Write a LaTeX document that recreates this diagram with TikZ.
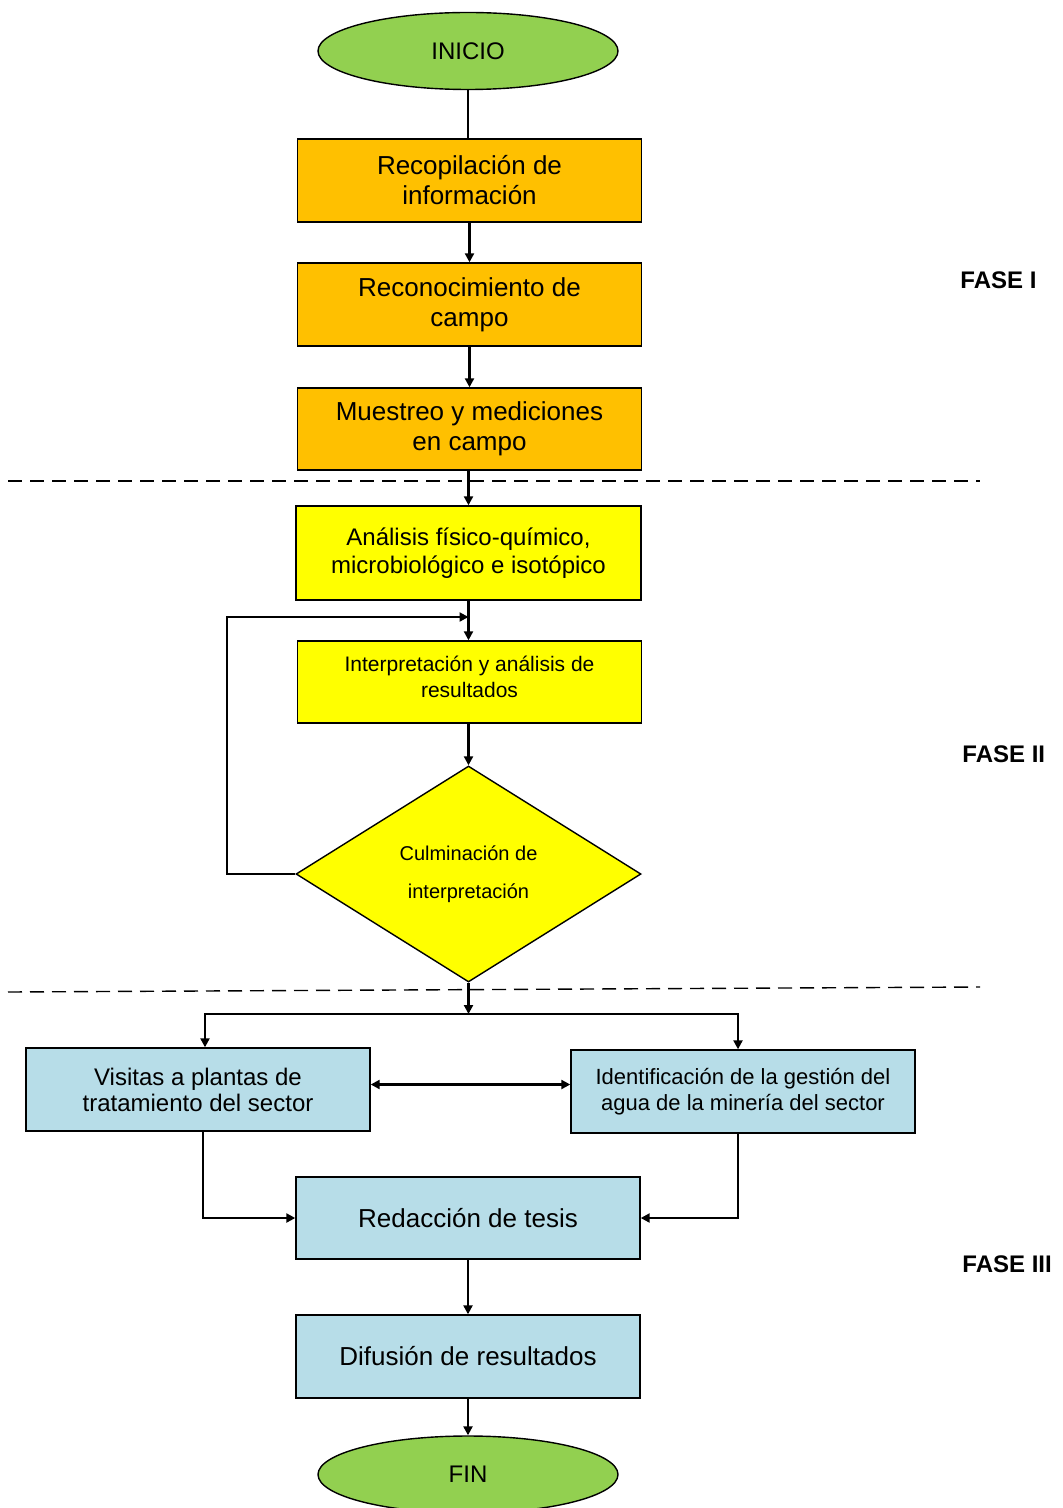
\documentclass[tikz,border=0pt]{standalone}
\usepackage{fontspec}
\setmainfont{Liberation Sans}
\usetikzlibrary{shapes.geometric,arrows.meta}
\definecolor{verde}{HTML}{92D050}
\definecolor{naranja}{HTML}{FFC000}
\definecolor{amarillo}{HTML}{FFFF00}
\definecolor{celeste}{HTML}{B7DDE8}

\begin{document}
\begin{tikzpicture}
      [x=0.5pt, y=-0.5pt, >={Triangle[length=4.5pt,width=4.5pt]},
      terminal/.style={ellipse, draw, fill=verde, line width=0.7pt, minimum width=150pt,
        minimum height=38.5pt, inner sep=0pt, font=\fontsize{12}{14}\selectfont},
      caja/.style={rectangle, draw, line width=0.7pt, minimum width=172pt,
        minimum height=41.5pt, inner sep=2pt, align=center},
      decision/.style={diamond, draw, fill=amarillo, line width=0.7pt, minimum width=172.5pt,
        minimum height=108pt, inner sep=0pt, align=center, font=\fontsize{10}{12}\selectfont},
      flecha/.style={->, line width=1.1pt},
      corte/.style={dash pattern=on 7pt off 4pt, line width=0.7pt},
      fase/.style={anchor=west, inner sep=0pt, font=\fontsize{12}{14}\bfseries\selectfont}]

      \useasboundingbox (0,0) rectangle (1063,1508);

      % fase I
      \node[terminal] (ini) at (468,51) {INICIO};
      \node[caja, fill=naranja, font=\fontsize{13}{15}\selectfont] (rec) at (469.5,180.5)
        {Recopilación de\\información};
      \node[caja, fill=naranja, font=\fontsize{13}{15}\selectfont] (rcn) at (469.5,304.5)
        {Reconocimiento de\\campo};
      \node[caja, fill=naranja, font=\fontsize{13}{15}\selectfont, minimum height=41pt] (mue) at (469.5,429)
        {Muestreo y mediciones\\en campo};

      % fase II
      \node[caja, fill=amarillo, font=\fontsize{12}{14}\selectfont, minimum width=172.5pt,
        minimum height=47pt] (ana) at (468.5,553)
        {Análisis físico-químico,\\microbiológico e isotópico};
      \node[caja, fill=amarillo, font=\fontsize{10.5}{13}\selectfont, minimum height=41pt] (int) at (469.5,682)
        {Interpretación y análisis de\\resultados\\[-8pt]\mbox{}};
      \node[decision] (dia) at (468.5,874) {Culminación de\\[7pt]interpretación};

      % fase III
      \node[caja, fill=celeste, font=\fontsize{12}{13}\selectfont] (vis) at (198,1089.5)
        {Visitas a plantas de\\tratamiento del sector};
      \node[caja, fill=celeste, font=\fontsize{11}{13}\selectfont] (ide) at (743,1091.5)
        {Identificación de la gestión del\\agua de la minería del sector};
      \node[caja, fill=celeste, font=\fontsize{13}{15}\selectfont, minimum height=41pt] (red) at (468,1218)
        {Redacción de tesis};
      \node[caja, fill=celeste, font=\fontsize{13}{15}\selectfont] (dif) at (468,1356.5)
        {Difusión de resultados};
      \node[terminal] (fin) at (468,1474.5) {FIN};

      % etiquetas
      \node[fase] (f1) at (960,280) {FASE I};
      \node[fase] (f2) at (962,754) {FASE II};
      \node[fase] (f3) at (962,1264) {FASE III};

      % separadores
      \draw[corte] (8,481) -- (980,481);
      \draw[corte] (8,992) -- (980,987);

      \coordinate (ret) at (468.5,617);
      \coordinate (rep) at (468.5,1014);

      \draw[line width=1.1pt] (ini.south) -- (ini.south |- rec.north);
      \draw[flecha] (rec) -- (rcn);
      \draw[flecha] (rcn) -- (mue);
      \draw[flecha] (mue.south -| ana.south) -- (ana.north);
      \draw[flecha] (ana.south) -- (ana.south |- int.north);
      \draw[flecha] (int.south -| dia.north) -- (dia.north);
      \draw[flecha] (dia.west) -- ++(-68,0) |- (ret);
      \draw[flecha] (dia.south) -- (rep);
      \draw[flecha] (rep) -| ([xshift=3.5pt]vis.north);
      \draw[flecha] (rep) -| ([xshift=-2.5pt]ide.north);
      \draw[<->, line width=1.1pt] ([yshift=2.5pt]vis.east) -- ([yshift=2.5pt]vis.east -| ide.west);
      \draw[flecha] ([xshift=2.5pt]vis.south) |- (red.west);
      \draw[flecha] ([xshift=-2.5pt]ide.south) |- (red.east);
      \draw[flecha] (red) -- (dif);
      \draw[flecha] (dif) -- (fin);
    \end{tikzpicture}
\end{document}
